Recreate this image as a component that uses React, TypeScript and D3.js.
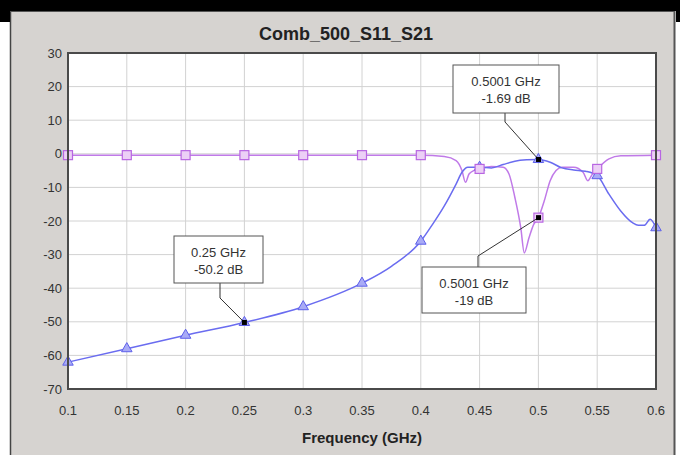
import React from "react";
import * as d3 from "d3";

const title = "Comb_500_S11_S21";
const xLabel = "Frequency (GHz)";
const xTicks = [0.1, 0.15, 0.2, 0.25, 0.3, 0.35, 0.4, 0.45, 0.5, 0.55, 0.6];
const yTicks = [30, 20, 10, 0, -10, -20, -30, -40, -50, -60, -70];

// S21 trace (frequency GHz, dB)
const s21Freq = [0.1, 0.15, 0.2, 0.25, 0.3, 0.35, 0.375, 0.4, 0.41, 0.42, 0.43, 0.435, 0.44, 0.45, 0.46, 0.47, 0.48, 0.49, 0.5, 0.51, 0.52, 0.53, 0.54, 0.55, 0.56, 0.57, 0.58, 0.585, 0.59, 0.595, 0.6];
const s21Val = [-62, -58, -54, -50.2, -45.5, -38.5, -33.5, -26, -21, -15.5, -9, -5.5, -4, -4, -4.2, -3.2, -2.2, -1.8, -1.69, -2.5, -4.2, -4.8, -5.2, -6.5, -12, -17, -20.5, -21.3, -21.3, -19.5, -22];

// S11 trace (frequency GHz, dB)
const s11Freq = [0.1, 0.4, 0.42, 0.43, 0.435, 0.438, 0.441, 0.445, 0.45, 0.46, 0.47, 0.475, 0.48, 0.485, 0.488, 0.492, 0.496, 0.5, 0.505, 0.51, 0.515, 0.52, 0.53, 0.538, 0.542, 0.546, 0.55, 0.56, 0.57, 0.6];
const s11Val = [-0.4, -0.4, -0.8, -2, -5, -8.5, -6, -5, -4.5, -3.8, -4, -6, -13, -22, -29.5, -25, -21, -19, -14, -8, -5, -4, -4, -5.5, -8, -6, -4.5, -1.5, -0.6, -0.4];

// Marker points every 0.05 GHz
const markerFreq = [0.1, 0.15, 0.2, 0.25, 0.3, 0.35, 0.4, 0.45, 0.5, 0.55, 0.6];
const s21Markers = [-62, -58, -54, -50.2, -45.5, -38.5, -26, -4, -1.69, -6.5, -22];
const s11Markers = [-0.4, -0.4, -0.4, -0.4, -0.4, -0.4, -0.4, -4.5, -19, -4.5, -0.4];

// Annotations
const annFreq = [0.5001, 0.5001, 0.25];
const annVal = [-1.69, -19, -50.2];
const annLine1 = ["0.5001 GHz", "0.5001 GHz", "0.25 GHz"];
const annLine2 = ["-1.69 dB", "-19 dB", "-50.2 dB"];

const W = 680;
const H = 455;
const PL = 68, PR = 656, PT = 53, PB = 389;

export default function App() {
  const x = d3.scaleLinear().domain([0.1, 0.6]).range([PL, PR]);
  const y = d3.scaleLinear().domain([-70, 30]).range([PB, PT]);

  const s21 = s21Freq.map((f, i) => [f, s21Val[i]] as [number, number]);
  const s11 = s11Freq.map((f, i) => [f, s11Val[i]] as [number, number]);
  const line = d3
    .line<[number, number]>()
    .x((d) => x(d[0]))
    .y((d) => y(d[1]))
    .curve(d3.curveMonotoneX);

  const tri = d3.symbol().type(d3.symbolTriangle).size(48)() as string;

  const boxes = [
    { bx: 453, by: 65, bw: 106, bh: 48, ax: 505, ay: 113, ey: 122 },
    { bx: 422, by: 267, bw: 104, bh: 46, ax: 478, ay: 267, ey: 256 },
    { bx: 174, by: 236, bw: 89, bh: 47, ax: 220, ay: 283, ey: 298 },
  ];

  const font = "Arial, 'Liberation Sans', Helvetica, sans-serif";

  return (
    <div style={{ position: "absolute", left: 0, top: 0 }}>
      <svg width={W} height={H} style={{ display: "block" }} fontFamily={font}>
        <rect x={0} y={0} width={W} height={H} fill="#ffffff" />
        <rect x={10} y={11} width={665} height={H - 11} fill="#d6d3d0" />
        <line x1={10.5} y1={11} x2={10.5} y2={H} stroke="#444" strokeWidth={1.5} />
        <line x1={674.5} y1={11} x2={674.5} y2={H} stroke="#555" strokeWidth={2} />
        <rect x={0} y={0} width={W} height={11} fill="#000" />
        <rect x={0} y={0} width={10} height={22} fill="#000" />
        <rect x={676} y={0} width={4} height={22} fill="#000" />
        <line x1={10} y1={11.5} x2={675} y2={11.5} stroke="#555" strokeWidth={1} />

        <text x={346} y={40} textAnchor="middle" fontSize={18} fontWeight="bold" fill="#222">
          {title}
        </text>

        <rect x={PL} y={PT} width={PR - PL} height={PB - PT} fill="#ffffff" />
        {xTicks.map((t) => (
          <line key={"gx" + t} x1={x(t)} x2={x(t)} y1={PT} y2={PB} stroke="#d2d2d2" strokeWidth={1} />
        ))}
        {yTicks.map((t) => (
          <line key={"gy" + t} x1={PL} x2={PR} y1={y(t)} y2={y(t)} stroke="#d2d2d2" strokeWidth={1} />
        ))}

        <path d={line(s11) || ""} fill="none" stroke="#c07ae8" strokeWidth={1.5} />
        <path d={line(s21) || ""} fill="none" stroke="#6a6cf0" strokeWidth={1.5} />

        {markerFreq.map((f, i) => (
          <path
            key={"t" + i}
            d={tri}
            transform={`translate(${x(f)},${y(s21Markers[i])})`}
            fill="#a9abf6"
            stroke="#5e60ea"
            strokeWidth={1}
          />
        ))}
        {markerFreq.map((f, i) => (
          <rect
            key={"s" + i}
            x={x(f) - 4.5}
            y={y(s11Markers[i]) - 4.5}
            width={9}
            height={9}
            fill="#ecd0f6"
            stroke="#b866e2"
            strokeWidth={1.2}
          />
        ))}

        <rect x={PL} y={PT} width={PR - PL} height={PB - PT} fill="none" stroke="#4a4a4a" strokeWidth={2} />

        {yTicks.map((t) => (
          <text key={"yl" + t} x={62} y={y(t) + 4.5} textAnchor="end" fontSize={13} fill="#333">
            {t}
          </text>
        ))}
        {xTicks.map((t) => (
          <text key={"xl" + t} x={x(t)} y={415} textAnchor="middle" fontSize={13} fill="#333">
            {String(t)}
          </text>
        ))}
        <text x={362} y={443} textAnchor="middle" fontSize={15} fontWeight="bold" fill="#222">
          {xLabel}
        </text>

        {boxes.map((b, i) => {
          const px = x(annFreq[i]);
          const py = y(annVal[i]);
          return (
            <g key={"ann" + i}>
              <polyline
                points={`${b.ax},${b.ay} ${b.ax},${b.ey} ${px},${py}`}
                fill="none"
                stroke="#333"
                strokeWidth={1}
              />
              <rect x={px - 2.5} y={py - 2.5} width={5} height={5} fill="#000" />
              <rect x={b.bx} y={b.by} width={b.bw} height={b.bh} fill="#fff" stroke="#555" strokeWidth={1} />
              <text x={b.bx + b.bw / 2} y={b.by + 21} textAnchor="middle" fontSize={13} fill="#333">
                {annLine1[i]}
              </text>
              <text x={b.bx + b.bw / 2} y={b.by + 38} textAnchor="middle" fontSize={13} fill="#333">
                {annLine2[i]}
              </text>
            </g>
          );
        })}
      </svg>
    </div>
  );
}
